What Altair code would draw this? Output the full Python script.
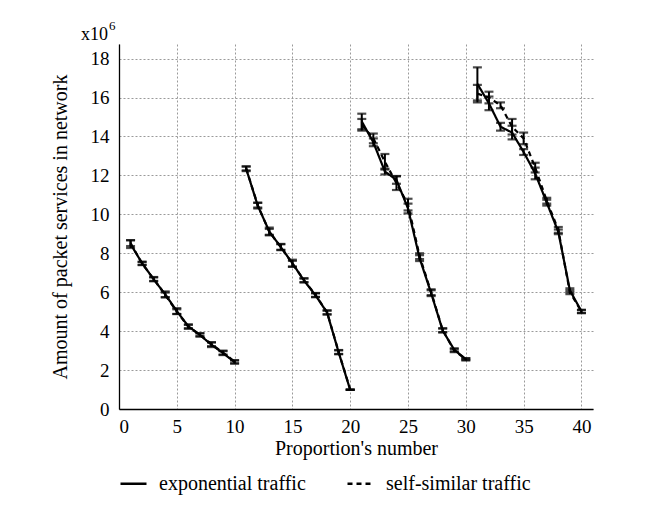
import altair as alt
import pandas as pd

# ---- data (values in units of 10^6 packet services) ----
proportion = list(range(1, 41))
segment = [1] * 10 + [2] * 10 + [3] * 10 + [4] * 10
series_names = ["exponential traffic", "self-similar traffic"]

exp_vals = [8.47, 7.49, 6.66, 5.89, 5.03, 4.25, 3.80, 3.30, 2.87, 2.41,
            12.34, 10.45, 9.12, 8.31, 7.49, 6.60, 5.84, 4.95, 2.91, 0.98,
            14.77, 13.70, 12.20, 11.77, 10.30, 7.75, 5.95, 4.03, 3.04, 2.56,
            16.70, 15.70, 14.50, 14.20, 13.20, 12.10, 10.60, 9.10, 6.10, 5.02]
exp_err = [0.20, 0.08, 0.10, 0.15, 0.15, 0.10, 0.08, 0.12, 0.10, 0.08,
           0.12, 0.15, 0.20, 0.15, 0.18, 0.10, 0.10, 0.10, 0.10, 0.00,
           0.40, 0.20, 0.15, 0.20, 0.25, 0.15, 0.15, 0.10, 0.08, 0.05,
           0.85, 0.35, 0.20, 0.35, 0.15, 0.30, 0.15, 0.12, 0.10, 0.08]
ss_vals = [8.52, 7.47, 6.68, 5.86, 5.00, 4.22, 3.82, 3.33, 2.90, 2.43,
           12.36, 10.47, 9.10, 8.33, 7.46, 6.62, 5.86, 4.97, 2.93, 1.00,
           14.60, 13.90, 12.70, 11.60, 10.50, 7.85, 6.00, 4.05, 3.00, 2.55,
           16.20, 16.00, 15.60, 14.50, 13.90, 12.40, 10.70, 9.20, 6.00, 5.00]
ss_err = [0.15, 0.08, 0.10, 0.12, 0.12, 0.10, 0.08, 0.10, 0.10, 0.08,
          0.10, 0.12, 0.15, 0.15, 0.15, 0.10, 0.10, 0.10, 0.10, 0.00,
          0.30, 0.25, 0.40, 0.35, 0.30, 0.15, 0.15, 0.10, 0.08, 0.05,
          0.45, 0.30, 0.15, 0.40, 0.30, 0.25, 0.15, 0.15, 0.10, 0.08]

x_ticks = [0, 5, 10, 15, 20, 25, 30, 35, 40]
y_ticks = [0, 2, 4, 6, 8, 10, 12, 14, 16, 18]

rows = []
for name, vals, errs in ((series_names[0], exp_vals, exp_err),
                         (series_names[1], ss_vals, ss_err)):
    for x, v, e, s in zip(proportion, vals, errs, segment):
        rows.append(dict(x=x, v=v, lo=v - e, hi=v + e, series=name, seg=s))
df = pd.DataFrame(rows)

FONT = "Liberation Serif, Times New Roman, serif"

xs = alt.Scale(domain=[0, 41], nice=False, zero=False)
ys = alt.Scale(domain=[0, 18.75], nice=False, zero=False)

X = alt.X("x:Q", scale=xs,
          axis=alt.Axis(values=x_ticks, title="Proportion's number",
                        labelPadding=8, titlePadding=2, format="d",
                        labelFont=FONT, titleFont=FONT))
Y = alt.Y("v:Q", scale=ys,
          axis=alt.Axis(values=y_ticks, title="Amount of packet services in network",
                        labelPadding=10, titlePadding=20, format="d",
                        labelFont=FONT, titleFont=FONT))

base = alt.Chart(df)

lines = base.mark_line(color="black", strokeWidth=2.2).encode(
    x=X, y=Y,
    strokeDash=alt.StrokeDash(
        "series:N",
        scale=alt.Scale(domain=series_names, range=[[1, 0], [5, 4]]),
        legend=alt.Legend(
            title=None, orient="none", legendX=0, legendY=425,
            direction="horizontal", columns=2, columnPadding=36,
            symbolType="stroke", symbolSize=676, symbolStrokeWidth=2.6,
            symbolStrokeColor="black", labelOffset=11,
            labelFont=FONT, labelFontSize=20, labelColor="black",
        ),
    ),
    detail="seg:N",
)

rules = base.mark_rule(color="black", strokeWidth=2).encode(
    x="x:Q", y="lo:Q", y2="hi:Q")
caps_lo = base.mark_tick(color="black", orient="horizontal", size=9, thickness=2.2).encode(
    x="x:Q", y="lo:Q")
caps_hi = base.mark_tick(color="black", orient="horizontal", size=9, thickness=2.2).encode(
    x="x:Q", y="hi:Q")

exp_lbl = alt.Chart(pd.DataFrame({"t": ["x10"]})).mark_text(
    font=FONT, fontSize=18, align="left", baseline="alphabetic", color="black"
).encode(text="t:N", x=alt.value(-38), y=alt.value(-4))
exp_sup = alt.Chart(pd.DataFrame({"t": ["6"]})).mark_text(
    font=FONT, fontSize=13, align="left", baseline="alphabetic", color="black"
).encode(text="t:N", x=alt.value(-10), y=alt.value(-14))

chart = alt.layer(lines, rules, caps_lo, caps_hi, exp_lbl, exp_sup).properties(
    width=474, height=365,
    autosize=alt.AutoSizeParams(type="none"),
    padding={"left": 111, "top": 36, "right": 40, "bottom": 92},
    background="white",
).configure(font=FONT).configure_view(stroke=None).configure_axis(
    domainColor="black", domainWidth=1.3, ticks=False,
    gridColor="#9a9a9a", gridDash=[2, 2], gridWidth=1,
    labelFont=FONT, labelFontSize=19, labelColor="black",
    titleFont=FONT, titleFontSize=20, titleFontWeight="normal", titleColor="black",
)

chart.save("out.html", embed_options={"renderer": "svg", "actions": False})
